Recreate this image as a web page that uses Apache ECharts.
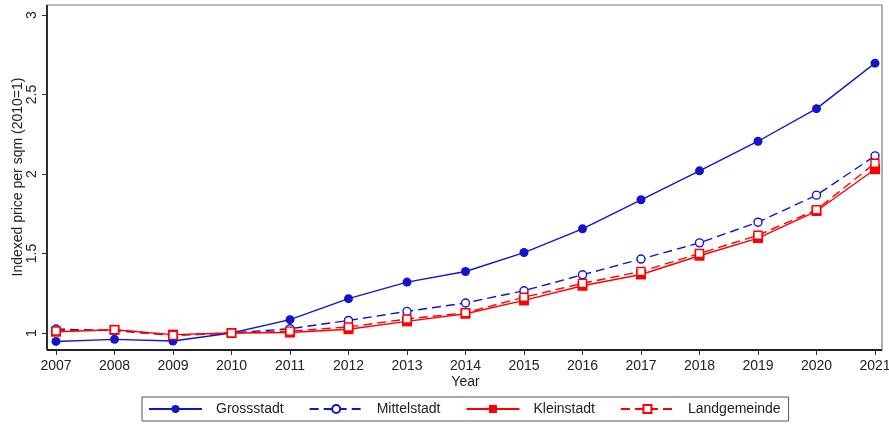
<!DOCTYPE html>
<html>
<head>
<meta charset="utf-8">
<script src="https://cdn.jsdelivr.net/npm/echarts@6/dist/echarts.min.js"></script>
<style>
  html, body { margin: 0; padding: 0; background: #fff; }
  #chart { width: 889px; height: 425px; }
</style>
</head>
<body>
<div id="chart"></div>
<script>
// Indexed price per square metre, 2010 = 1, by municipality type
const years = ['2007', '2008', '2009', '2010', '2011', '2012', '2013', '2014',
               '2015', '2016', '2017', '2018', '2019', '2020', '2021'];
const grossstadt   = [0.947, 0.960, 0.950, 1.000, 1.084, 1.216, 1.320, 1.387,
                      1.506, 1.655, 1.838, 2.020, 2.206, 2.411, 2.697];
const mittelstadt  = [1.025, 1.015, 0.985, 1.000, 1.027, 1.079, 1.136, 1.189,
                      1.266, 1.366, 1.465, 1.567, 1.697, 1.867, 2.114];
const kleinstadt   = [1.008, 1.020, 0.990, 1.000, 1.003, 1.024, 1.073, 1.121,
                      1.205, 1.297, 1.368, 1.486, 1.597, 1.767, 2.030];
const landgemeinde = [1.013, 1.020, 0.985, 1.000, 1.012, 1.038, 1.088, 1.127,
                      1.225, 1.312, 1.387, 1.500, 1.615, 1.775, 2.068];
const yTicks = [1, 1.5, 2, 2.5, 3];

const BLUE = '#1414c8';
const RED = '#ff0000';
const FONT = '"Liberation Sans", Arial, sans-serif';

const chart = echarts.init(document.getElementById('chart'), null, { renderer: 'canvas' });

function lineSeries(name, data, color, dashed, symbol, filled, size) {
  return {
    name: name,
    type: 'line',
    data: data,
    clip: false,
    symbol: symbol,
    symbolSize: size,
    showSymbol: true,
    animation: false,
    lineStyle: { color: color, width: 1.4, type: dashed ? [9, 5] : 'solid' },
    itemStyle: filled
      ? { color: color, borderColor: color, borderWidth: 0 }
      : { color: '#ffffff', borderColor: color, borderWidth: 1.4 },
    emphasis: { disabled: true }
  };
}

chart.setOption({
  backgroundColor: '#ffffff',
  animation: false,
  textStyle: { fontFamily: FONT },
  grid: { left: 56, right: 14, top: 15, bottom: 92,
          containLabel: false, outerBoundsMode: 'none' },
  xAxis: {
    type: 'category',
    data: years,
    boundaryGap: false,
    offset: 17,
    name: 'Year',
    nameLocation: 'middle',
    nameGap: 25,
    nameMoveOverlap: false,
    nameTextStyle: { fontFamily: FONT, fontSize: 14, color: '#222' },
    axisLine: { show: false },
    axisTick: { show: true, length: 5, alignWithLabel: true,
                lineStyle: { color: '#333', width: 1 } },
    axisLabel: { fontFamily: FONT, fontSize: 14, color: '#222', margin: 9,
                 interval: 0 },
    splitLine: { show: false }
  },
  yAxis: {
    type: 'value',
    min: yTicks[0],
    max: yTicks[yTicks.length - 1],
    interval: 0.5,
    offset: 9,
    name: 'Indexed price per sqm (2010=1)',
    nameLocation: 'middle',
    nameGap: 22,
    nameRotate: 90,
    nameMoveOverlap: false,
    nameTextStyle: { fontFamily: FONT, fontSize: 14, color: '#222',
                     padding: [0, 6, 0, 0] },
    axisLine: { show: false },
    axisTick: { show: true, length: 5, lineStyle: { color: '#333', width: 1 } },
    axisLabel: { fontFamily: FONT, fontSize: 14, color: '#222', rotate: 90,
                 margin: 8 },
    splitLine: { show: false }
  },
  legend: {
    left: 142,
    top: 397,
    orient: 'horizontal',
    padding: [5, 8, 5, 6],
    borderColor: '#555',
    borderWidth: 1,
    itemWidth: 53,
    itemHeight: 10,
    itemGap: 25,
    textStyle: { fontFamily: FONT, fontSize: 14, color: '#222',
                 padding: [0, 0, 0, 9] },
    data: ['Grossstadt', 'Mittelstadt', 'Kleinstadt', 'Landgemeinde']
  },
  graphic: [
    { type: 'rect', silent: true, z: 0,
      shape: { x: 47, y: 5, width: 835, height: 345 },
      style: { fill: null, stroke: '#7a7a7a', lineWidth: 1.2 } },
    { type: 'line', silent: true, z: 1,
      shape: { x1: 47, y1: 5, x2: 47, y2: 350 },
      style: { stroke: '#222', lineWidth: 1.8 } },
    { type: 'line', silent: true, z: 1,
      shape: { x1: 47, y1: 350, x2: 882, y2: 350 },
      style: { stroke: '#222', lineWidth: 1.8 } }
  ],
  series: [
    lineSeries('Grossstadt', grossstadt, BLUE, false, 'circle', true, 9),
    lineSeries('Mittelstadt', mittelstadt, BLUE, true, 'circle', false, 8),
    lineSeries('Kleinstadt', kleinstadt, RED, false, 'rect', true, 10),
    lineSeries('Landgemeinde', landgemeinde, RED, true, 'rect', false, 8)
  ]
});
</script>
</body>
</html>
